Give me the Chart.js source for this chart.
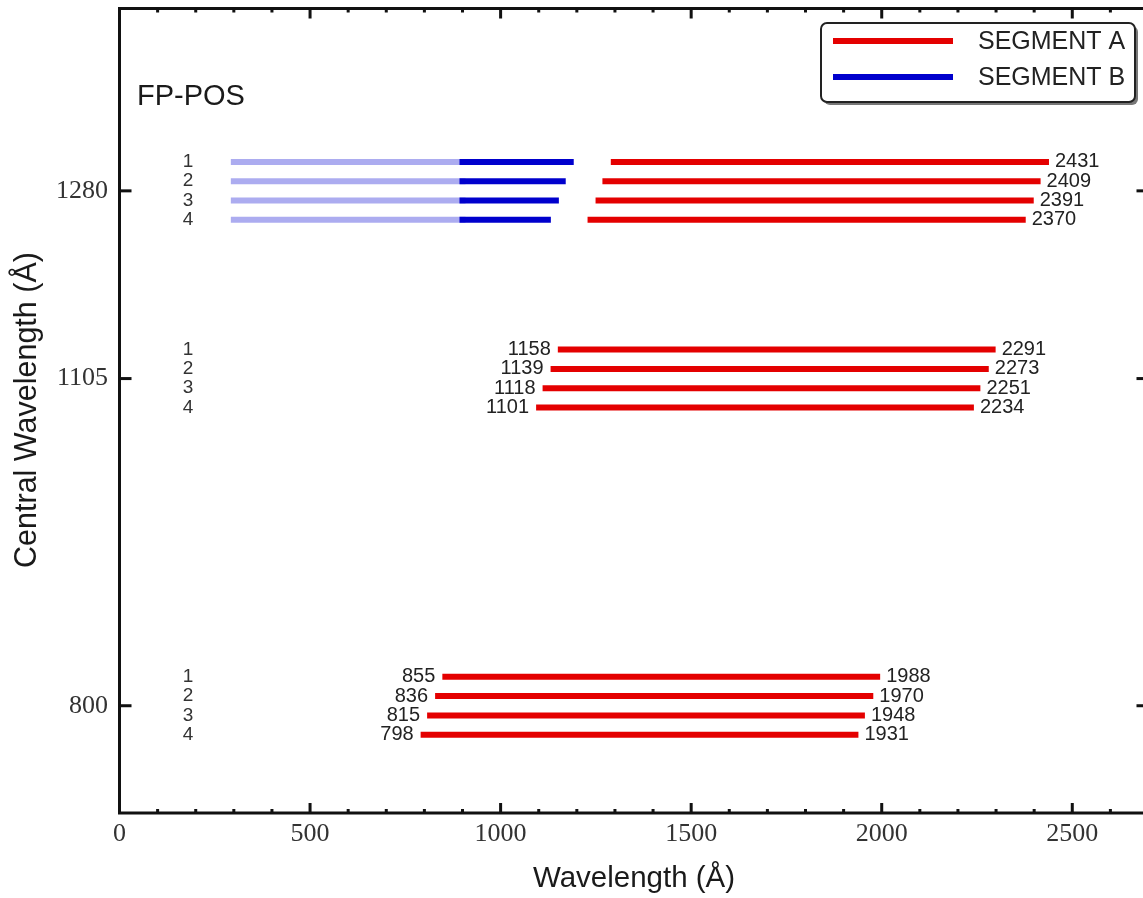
<!DOCTYPE html>
<html>
<head>
<meta charset="utf-8">
<script src="https://cdn.jsdelivr.net/npm/chart.js@4/dist/chart.umd.min.js"></script>
<style>
  html, body { margin: 0; padding: 0; background: #fff; overflow: hidden; }
  #wrap { width: 1150px; height: 898px; }
</style>
</head>
<body>
<div id="wrap"><canvas id="c" width="1150" height="898"></canvas></div>
<script>
// ---------- data ----------
const centralWavelengths = [1280, 1105, 800];
const fpPosLabels = ['1', '2', '3', '4'];
const fpPosOffsets = [27, 9, -9, -27];           // y offset (Å) of each FP-POS row around its central wavelength
const xTickValues = [0, 500, 1000, 1500, 2000, 2500];
const yTickValues = [1280, 1105, 800];

// 1280 setting
const segA1280Start = [1297, 1275, 1257, 1236];
const segA1280End   = [2431, 2409, 2391, 2370];
const segB1280Start = [900, 900, 900, 900];
const segB1280End   = [1184, 1163, 1145, 1124];
const segB1280ExtStart = [300, 300, 300, 300];
const segB1280ExtEnd   = [900, 900, 900, 900];
// 1105 setting
const segA1105Start = [1158, 1139, 1118, 1101];
const segA1105End   = [2291, 2273, 2251, 2234];
// 800 setting
const segA800Start = [855, 836, 815, 798];
const segA800End   = [1988, 1970, 1948, 1931];

const legendLabels = ['SEGMENT A', 'SEGMENT B'];
const annotationText = 'FP-POS';

// ---------- styles ----------
const RED = 'rgb(228,0,0)';
const BLUE = 'rgb(0,0,205)';
const LIGHTBLUE = 'rgb(172,172,240)';
const LW = 6;

// ---------- build datasets ----------
const datasets = [];
function addRows(center, starts, ends, color, order, labelStart, labelEnd) {
  for (let i = 0; i < starts.length; i++) {
    const y = center + fpPosOffsets[i];
    datasets.push({
      data: [{x: starts[i], y: y}, {x: ends[i], y: y}],
      borderColor: color, backgroundColor: color, borderWidth: LW,
      borderCapStyle: 'square', pointRadius: 0, pointHoverRadius: 0,
      fill: false, tension: 0, order: order,
      _lblStart: labelStart ? starts[i] : null,
      _lblEnd: labelEnd ? ends[i] : null
    });
  }
}
addRows(1280, segB1280Start, segB1280End, BLUE, 0, false, false);
addRows(1280, segB1280ExtStart, segB1280ExtEnd, LIGHTBLUE, 1, false, false);
addRows(1280, segA1280Start, segA1280End, RED, 0, false, true);
addRows(1105, segA1105Start, segA1105End, RED, 0, true, true);
addRows(800, segA800Start, segA800End, RED, 0, true, true);

// ---------- custom drawing plugin ----------
const decor = {
  id: 'decor',
  afterDatasetsDraw(chart) {
    const ctx = chart.ctx;
    const xs = chart.scales.x, ys = chart.scales.y;
    const a = chart.chartArea;
    ctx.save();

    // data labels
    ctx.font = '20px "Liberation Sans", Arial, sans-serif';
    ctx.fillStyle = '#222';
    ctx.textBaseline = 'middle';
    chart.data.datasets.forEach(ds => {
      const p0 = ds.data[0], p1 = ds.data[1];
      const py = ys.getPixelForValue(p0.y);
      if (ds._lblStart !== null) {
        ctx.textAlign = 'right';
        ctx.fillText(String(ds._lblStart), xs.getPixelForValue(p0.x) - 10, py);
      }
      if (ds._lblEnd !== null) {
        ctx.textAlign = 'left';
        ctx.fillText(String(ds._lblEnd), xs.getPixelForValue(p1.x) + 9, py);
      }
    });
    // FP-POS row numbers
    ctx.font = '19px "Liberation Sans", Arial, sans-serif';
    ctx.fillStyle = '#333';
    ctx.textAlign = 'center';
    centralWavelengths.forEach(c => {
      fpPosLabels.forEach((l, i) => {
        ctx.fillText(l, xs.getPixelForValue(180), ys.getPixelForValue(c + fpPosOffsets[i]));
      });
    });

    // annotation
    ctx.font = '29px "Liberation Sans", Arial, sans-serif';
    ctx.fillStyle = '#1a1a1a';
    ctx.textAlign = 'left';
    ctx.textBaseline = 'alphabetic';
    ctx.fillText(annotationText, 137, 105);

    // frame
    ctx.strokeStyle = '#111';
    ctx.lineWidth = 3;
    ctx.strokeRect(a.left, a.top, a.right - a.left, a.bottom - a.top);

    // x ticks (top and bottom, inward)
    ctx.fillStyle = '#111';
    for (let v = 0; v <= 2700; v += 100) {
      const px = xs.getPixelForValue(v);
      if (px <= a.left + 1 || px >= a.right - 1) { if (v !== 0) continue; }
      const major = v % 500 === 0;
      const len = major ? 10 : 4;
      const w = 3;
      ctx.fillRect(px - w / 2, a.bottom - len, w, len);
      ctx.fillRect(px - w / 2, a.top, w, len);
    }
    // y ticks (left and right, inward)
    yTickValues.forEach(v => {
      const py = ys.getPixelForValue(v);
      ctx.fillRect(a.left, py - 1.5, 12, 3);
      ctx.fillRect(a.right - 12, py - 1.5, 12, 3);
    });

    // tick labels
    ctx.font = '26px "Liberation Serif", "DejaVu Serif", serif';
    ctx.fillStyle = '#333';
    ctx.textBaseline = 'middle';
    ctx.textAlign = 'center';
    xTickValues.forEach(v => ctx.fillText(String(v), xs.getPixelForValue(v), 834));
    ctx.textAlign = 'right';
    yTickValues.forEach(v => ctx.fillText(String(v), 108, ys.getPixelForValue(v)));

    // axis titles
    ctx.font = '29.5px "Liberation Sans", Arial, sans-serif';
    ctx.fillStyle = '#1a1a1a';
    ctx.textAlign = 'center';
    ctx.fillText('Wavelength (Å)', 634, 879);
    ctx.save();
    ctx.font = '30.5px "Liberation Sans", Arial, sans-serif';
    ctx.translate(28, 410);
    ctx.rotate(-Math.PI / 2);
    ctx.fillText('Central Wavelength (Å)', 0, 0);
    ctx.restore();

    // legend
    const bx = 821, by = 23, bw = 314, bh = 79, r = 6;
    function rr(x, y, w, h) {
      ctx.beginPath();
      ctx.moveTo(x + r, y);
      ctx.arcTo(x + w, y, x + w, y + h, r);
      ctx.arcTo(x + w, y + h, x, y + h, r);
      ctx.arcTo(x, y + h, x, y, r);
      ctx.arcTo(x, y, x + w, y, r);
      ctx.closePath();
    }
    ctx.fillStyle = '#777';
    rr(bx + 3, by + 3, bw, bh); ctx.fill();
    ctx.fillStyle = '#fff';
    rr(bx, by, bw, bh); ctx.fill();
    ctx.strokeStyle = '#222'; ctx.lineWidth = 2;
    rr(bx, by, bw, bh); ctx.stroke();
    const legColors = [RED, BLUE];
    const legY = [41, 77];
    legendLabels.forEach((t, i) => {
      ctx.strokeStyle = legColors[i];
      ctx.lineWidth = LW;
      ctx.lineCap = 'butt';
      ctx.beginPath(); ctx.moveTo(833, legY[i]); ctx.lineTo(953, legY[i]); ctx.stroke();
      ctx.fillStyle = '#222';
      ctx.font = '25px "Liberation Sans", Arial, sans-serif';
      ctx.textAlign = 'left';
      ctx.textBaseline = 'middle';
      ctx.fillText(t, 978, legY[i] + 1);
    });

    ctx.restore();
  }
};

new Chart(document.getElementById('c'), {
  type: 'line',
  data: { datasets: datasets },
  options: {
    responsive: false,
    animation: false,
    parsing: true,
    layout: { padding: { left: 119.5, top: 8.5, right: 1.5, bottom: 85 } },
    plugins: { legend: { display: false }, tooltip: { enabled: false } },
    scales: {
      x: { type: 'linear', min: 0, max: 2700, display: false },
      y: { type: 'linear', min: 700, max: 1450, display: false }
    }
  },
  plugins: [decor]
});
</script>
</body>
</html>
